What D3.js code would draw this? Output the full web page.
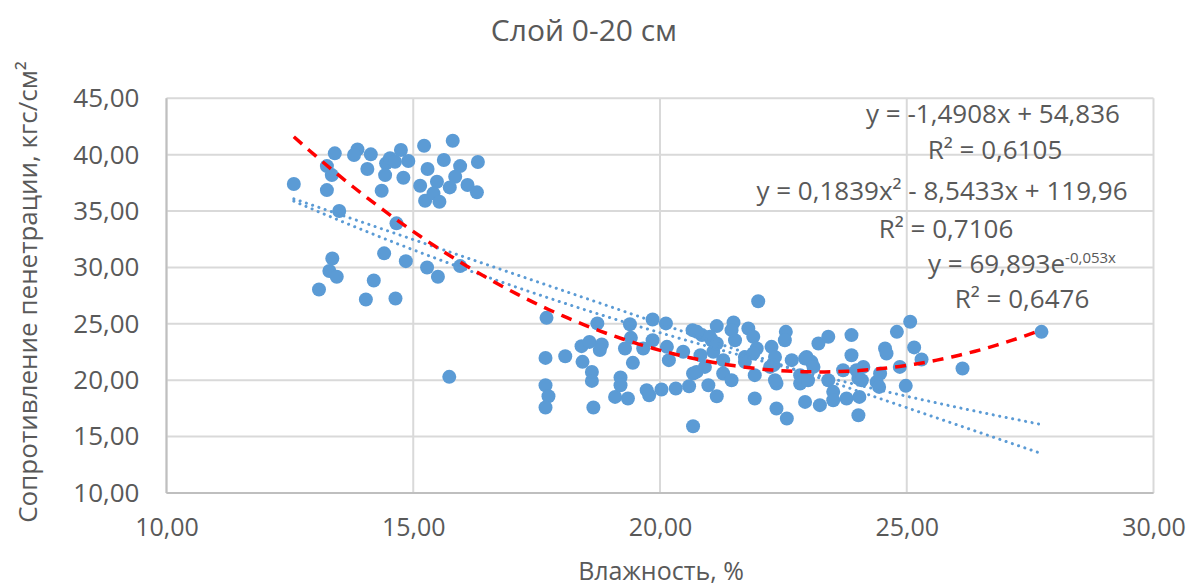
<!DOCTYPE html>
<html><head><meta charset="utf-8">
<script src="https://cdn.jsdelivr.net/npm/d3@7"></script>
<style>body{margin:0;background:#fff}svg{display:block}text{font-family:"Open Sans",sans-serif;fill:#595959}</style>
</head><body><svg id="c" width="1191" height="586"></svg>
<script>
const moisture = [12.58,13.41,13.25,13.35,13.25,13.50,13.87,13.80,14.14,14.07,14.36,14.45,14.43,14.53,14.63,14.75,14.90,14.80,14.66,15.22,15.29,15.14,15.24,15.48,15.41,15.53,15.62,15.80,15.95,15.85,15.74,16.10,16.29,16.31,14.41,13.36,13.30,13.45,13.09,14.20,14.04,14.64,14.85,15.28,15.50,15.95,15.73,
17.70,17.68,17.68,17.74,17.68,18.08,18.73,18.41,18.57,18.43,18.82,18.78,18.62,18.62,18.65,19.09,19.20,19.20,19.35,19.39,19.41,19.29,19.45,19.66,19.73,19.78,19.85,19.85,20.03,20.12,20.14,20.18,20.32,20.47,20.59,20.66,20.67,20.67,20.85,20.98,21.05,21.08,21.15,21.15,
21.99,21.01,21.49,21.52,21.45,20.82,21.28,21.28,21.45,21.79,21.89,21.96,21.72,21.92,21.92,22.26,22.33,22.30,22.36,22.36,22.57,22.55,22.53,22.67,22.84,22.84,22.94,22.97,23.07,23.21,23.41,23.24,23.41,23.51,23.51,23.71,23.78,23.88,23.88,24.02,24.02,24.04,24.12,24.39,24.56,24.59,24.80,24.86,
25.07,25.15,25.30,24.98,24.46,24.44,26.13,27.73,
20.75,20.91,20.74,21.15,21.89,21.72,22.33,22.23,22.94,23.11,23.00,23.98,24.09];
const resistance = [37.40,40.12,38.99,38.19,36.86,35.00,40.47,39.97,40.03,38.73,36.80,39.23,38.19,39.68,39.37,40.41,39.44,37.95,33.91,40.79,38.73,37.24,35.91,37.60,36.57,35.83,39.53,41.24,38.99,38.04,37.10,37.31,36.66,39.35,31.25,30.80,29.68,29.17,28.05,28.85,27.16,27.25,30.56,30.00,29.17,30.12,20.30,
25.53,21.98,19.56,18.58,17.58,22.13,25.04,23.02,23.40,21.63,23.17,22.67,20.74,19.94,17.58,18.52,20.24,19.56,18.38,24.97,23.76,22.82,21.54,22.82,19.12,18.67,25.39,23.55,19.18,25.04,22.96,21.78,19.27,22.52,19.47,24.44,20.60,15.92,24.00,19.56,23.55,22.52,24.80,18.58,
27.01,23.85,25.12,23.55,24.44,22.22,21.78,20.60,20.00,24.59,23.85,22.82,22.07,20.45,18.38,22.96,22.07,21.34,19.71,17.49,16.61,24.29,23.55,21.78,20.45,19.71,18.08,22.07,21.63,23.26,23.85,17.79,20.00,18.97,18.23,20.89,18.38,24.00,22.22,20.16,16.90,18.52,21.18,19.85,22.82,22.37,24.29,21.18,
25.18,22.91,21.84,19.50,20.60,19.41,21.04,24.29,
24.29,21.18,20.74,23.26,22.37,21.63,20.00,21.18,21.93,21.18,20.00,20.89,20.00];
const xTicks = [10,15,20,25,30];
const yTicks = [10,15,20,25,30,35,40,45];
const linearCoef = [-1.4908, 54.836];
const polyCoef = [0.1839, -8.5433, 119.96];
const expCoef = [69.893, -0.053];
const trendRange = [12.58, 27.73];
const eqTexts = ["y = -1,4908x + 54,836","R² = 0,6105","y = 0,1839x² - 8,5433x + 119,96","R² = 0,7106","R² = 0,6476"];

const svg = d3.select("#c");
const x = d3.scaleLinear().domain([10,30]).range([166.5,1153.5]);
const y = d3.scaleLinear().domain([10,45]).range([493,98.3]);
const fmt = v => d3.format(".2f")(v).replace(".", ",");

svg.append("g").selectAll("line").data(yTicks).join("line")
  .attr("x1", x(10)).attr("x2", x(30)).attr("y1", d=>y(d)).attr("y2", d=>y(d))
  .attr("stroke", "#d9d9d9").attr("stroke-width", 2);
svg.append("g").selectAll("line").data(xTicks).join("line")
  .attr("y1", y(10)).attr("y2", y(45)).attr("x1", d=>x(d)).attr("x2", d=>x(d))
  .attr("stroke", "#d9d9d9").attr("stroke-width", 2);
svg.append("line").attr("x1",x(10)).attr("x2",x(30)).attr("y1",y(10)).attr("y2",y(10)).attr("stroke","#bfbfbf").attr("stroke-width",2);
svg.append("line").attr("x1",x(10)).attr("x2",x(10)).attr("y1",y(10)).attr("y2",y(45)).attr("stroke","#bfbfbf").attr("stroke-width",2);

const xa = svg.append("g").attr("transform", `translate(0,${y(10)})`)
  .call(d3.axisBottom(x).tickValues(xTicks).tickFormat(fmt).tickSize(0).tickPadding(25));
xa.select(".domain").remove();
xa.selectAll("text").attr("font-size", 25).style("fill","#595959").attr("font-family","'Open Sans',sans-serif");
const ya = svg.append("g").attr("transform", `translate(${x(10)},0)`)
  .call(d3.axisLeft(y).tickValues(yTicks).tickFormat(fmt).tickSize(0).tickPadding(27));
ya.select(".domain").remove();
ya.selectAll("text").attr("font-size", 26).style("fill","#595959").attr("font-family","'Open Sans',sans-serif");

svg.append("g").selectAll("circle").data(moisture).join("circle")
  .attr("cx", d=>x(d)).attr("cy", (d,i)=>y(resistance[i])).attr("r", 7)
  .attr("fill", "#5b9bd5");

const xs = d3.range(0, 101).map(i => trendRange[0] + (trendRange[1]-trendRange[0])*i/100);
const line = d3.line().x(d=>x(d[0])).y(d=>y(d[1]));
const linPts = xs.map(v => [v, linearCoef[0]*v + linearCoef[1]]);
const expPts = xs.map(v => [v, expCoef[0]*Math.exp(expCoef[1]*v)]);
const polyPts = xs.map(v => [v, polyCoef[0]*v*v + polyCoef[1]*v + polyCoef[2]]);
[linPts, expPts].forEach(p => svg.append("path").attr("d", line(p)).attr("fill","none")
  .attr("stroke","#5b9bd5").attr("stroke-width",3).attr("stroke-linecap","round").attr("stroke-dasharray","0.1 6.5"));
svg.append("path").attr("d", line(polyPts)).attr("fill","none")
  .attr("stroke","#ff0000").attr("stroke-width",3.5).attr("stroke-dasharray","11 8");

const eq = svg.append("g").attr("font-size", 26).attr("text-anchor","middle");
eq.append("text").attr("x", 993).attr("y", 123).text(eqTexts[0]);
eq.append("text").attr("x", 995).attr("y", 159).text(eqTexts[1]);
eq.append("text").attr("x", 942).attr("y", 200).text(eqTexts[2]);
eq.append("text").attr("x", 946).attr("y", 238).text(eqTexts[3]);
const e3 = eq.append("text").attr("x", 1022).attr("y", 273);
e3.append("tspan").text("y = 69,893e");
e3.append("tspan").attr("dy", -10).attr("font-size", 15).text("-0,053x");
eq.append("text").attr("x", 1022).attr("y", 308).text(eqTexts[4]);

svg.append("text").attr("x", 584).attr("y", 41).attr("text-anchor","middle").attr("font-size", 30).text("Слой 0-20 см");
svg.append("text").attr("x", 661).attr("y", 580).attr("text-anchor","middle").attr("font-size", 25).text("Влажность, %");
svg.append("text").attr("transform","translate(37,292) rotate(-90)").attr("text-anchor","middle").attr("font-size", 26).text("Сопротивление пенетрации, кгс/см²");
</script></body></html>
